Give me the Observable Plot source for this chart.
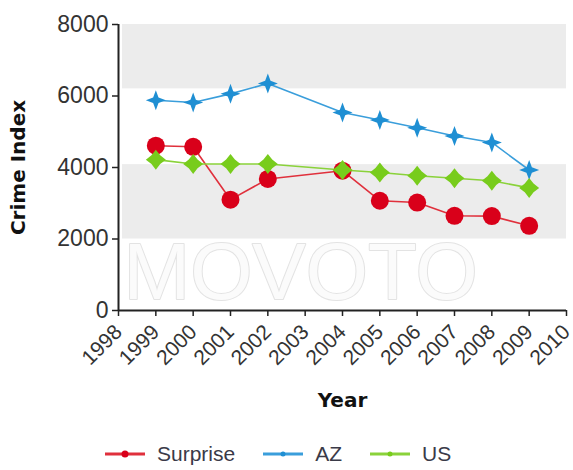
<!DOCTYPE html>
<html>
<head>
<meta charset="utf-8">
<script src="https://cdn.jsdelivr.net/npm/d3@7"></script>
<script src="https://cdn.jsdelivr.net/npm/@observablehq/plot@0.6"></script>
<style>
  html, body { margin: 0; padding: 0; background: #fff; }
  #wrap { position: relative; width: 573px; height: 470px; }
  #legend { position: absolute; left: 104px; top: 442px; display: flex; align-items: center;
    font-family: "Liberation Sans", Arial, sans-serif; font-size: 21px; color: #3a3a48; }
  #legend .item { display: flex; align-items: center; margin-right: 27px; }
  #legend svg { margin-right: 11px; }
</style>
</head>
<body>
<div id="wrap">
  <div id="chart"></div>
  <div id="legend"></div>
</div>
<script>
const years = [1999, 2000, 2001, 2002, 2004, 2005, 2006, 2007, 2008, 2009];
const surprise = [4610, 4580, 3100, 3680, 3910, 3070, 3020, 2650, 2640, 2370];
const az = [5880, 5820, 6060, 6350, 5540, 5330, 5110, 4880, 4700, 3930];
const us = [4220, 4100, 4100, 4100, 3930, 3860, 3770, 3700, 3630, 3430];
const seriesNames = ["Surprise", "AZ", "US"];
const seriesColors = ["#d9001a", "#1f8fd3", "#78cc1c"];
const lineColors = ["#e0303c", "#3a9edb", "#8ad23a"];
const xTicks = d3.range(1998, 2011);
const yTicks = [0, 2000, 4000, 6000, 8000];
const bands = [{lo: 6200, hi: 8000}, {lo: 2000, hi: 4080}];

const values = [surprise, az, us];
const rows = [];
seriesNames.forEach((s, i) => years.forEach((yr, j) => rows.push({series: s, year: yr, value: values[i][j]})));

function star4(inner) {
  return {
    draw(ctx, size) {
      const R = Math.sqrt(size / Math.PI) * 1.25;
      const r = R * inner;
      for (let k = 0; k < 8; k++) {
        const a = k * Math.PI / 4 - Math.PI / 2;
        const rad = k % 2 === 0 ? R : r;
        const px = Math.cos(a) * rad, py = Math.sin(a) * rad;
        if (k === 0) ctx.moveTo(px, py); else ctx.lineTo(px, py);
      }
      ctx.closePath();
    }
  };
}
const symbols = {Surprise: "circle", AZ: star4(0.38), US: star4(0.62)};
const radii = {Surprise: 9, AZ: 8, US: 8};

const marks = [
  Plot.rect(bands, {x1: () => 1998, x2: () => 2010, y1: "lo", y2: "hi", fill: "#ececec", insetLeft: 4}),
  Plot.text(["MOVOTO"], {frameAnchor: "bottom-left", textAnchor: "start", lineAnchor: "bottom",
    dx: 5, dy: -12, fontSize: 80, fontFamily: "Liberation Sans, Arial, sans-serif",
    fill: "#fbfbfb", stroke: "#e3e3e3", strokeWidth: 2})
];
seriesNames.forEach((s, i) => {
  const d = rows.filter(r => r.series === s);
  marks.push(Plot.line(d, {x: "year", y: "value", stroke: lineColors[i], strokeWidth: 1.6}));
});
seriesNames.forEach((s, i) => {
  const d = rows.filter(r => r.series === s);
  marks.push(Plot.dot(d, {x: "year", y: "value", fill: seriesColors[i], stroke: "none",
    symbol: () => symbols[s], r: radii[s]}));
});
marks.push(
  Plot.ruleX([1998], {stroke: "#222", strokeWidth: 2}),
  Plot.ruleY([0], {stroke: "#222", strokeWidth: 2}),
  Plot.axisY({ticks: yTicks, tickFormat: d => String(d), tickSize: 6, tickPadding: 4, fontSize: 23,
    fontFamily: "Liberation Sans, Arial, sans-serif", fill: "#333", stroke: "#222", strokeWidth: 1.5, label: null}),
  Plot.axisX({ticks: xTicks, tickFormat: d => String(d), tickSize: 6, tickPadding: 12, tickRotate: -45, fontSize: 21,
    fontFamily: "Liberation Sans, Arial, sans-serif", fill: "#333", stroke: "#222", strokeWidth: 1.5, label: null}),
  Plot.text(["Crime Index"], {frameAnchor: "left", textAnchor: "middle", dx: -100, rotate: -90, fontSize: 20, fontWeight: "bold",
    fontFamily: "DejaVu Sans, Verdana, sans-serif", fill: "#111"}),
  Plot.text(["Year"], {frameAnchor: "bottom", dy: 96, fontSize: 20, fontWeight: "bold",
    fontFamily: "DejaVu Sans, Verdana, sans-serif", fill: "#111"})
);

const chart = Plot.plot({
  width: 573,
  height: 430,
  marginLeft: 118,
  marginRight: 7,
  marginTop: 24,
  marginBottom: 120,
  x: {domain: [1998, 2010]},
  y: {domain: [0, 8000]},
  symbol: {type: "identity"},
  style: {background: "#fff", overflow: "visible"},
  marks
});
document.getElementById("chart").appendChild(chart);

const legend = document.getElementById("legend");
seriesNames.forEach((s, i) => {
  const item = document.createElement("div");
  item.className = "item";
  item.innerHTML = `<svg width="42" height="12"><line x1="1" y1="6" x2="41" y2="6" stroke="${lineColors[i]}" stroke-width="3"/><circle cx="21" cy="6" r="${i === 0 ? 3.5 : 2.5}" fill="${seriesColors[i]}"/></svg><span>${s}</span>`;
  legend.appendChild(item);
});
</script>
</body>
</html>
